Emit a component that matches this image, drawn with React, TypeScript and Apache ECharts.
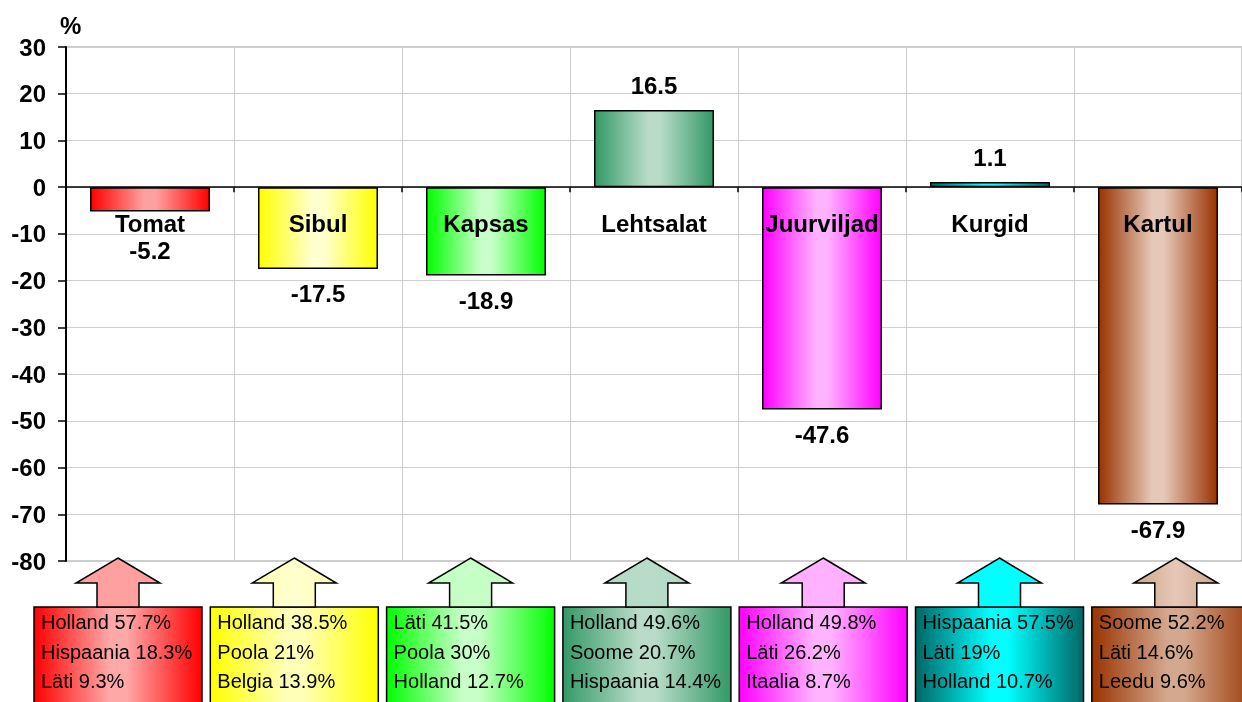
import React, { useEffect, useRef } from "react";
import * as echarts from "echarts";

const categories = ["Tomat", "Sibul", "Kapsas", "Lehtsalat", "Juurviljad", "Kurgid", "Kartul"];
const changes = [-5.2, -17.5, -18.9, 16.5, -47.6, 1.1, -67.9];
const origins = [
  ["Holland 57.7%", "Hispaania 18.3%", "Läti 9.3%"],
  ["Holland 38.5%", "Poola 21%", "Belgia 13.9%"],
  ["Läti 41.5%", "Poola 30%", "Holland 12.7%"],
  ["Holland 49.6%", "Soome 20.7%", "Hispaania 14.4%"],
  ["Holland 49.8%", "Läti 26.2%", "Itaalia 8.7%"],
  ["Hispaania 57.5%", "Läti 19%", "Holland 10.7%"],
  ["Soome 52.2%", "Läti 14.6%", "Leedu 9.6%"],
];
const yTicks = { min: -80, max: 30, interval: 10 };
const nameLabelLevel = -7.7;

const edgeColors = ["#ff0000", "#ffff00", "#00ff00", "#339966", "#ff00ff", "#006666", "#993300"];
const centerColors = ["#ffa0a0", "#ffffd0", "#c8ffc8", "#b8dcc8", "#ffb3ff", "#00ffff", "#e6c8b8"];
const boxCenterColors = ["#ffa8a8", "#ffffb8", "#c8ffc8", "#b8dcc8", "#ffb3ff", "#00ffff", "#d4a88e"];
const arrowColors = ["#ffa0a0", "#ffffb0", "#c0ffc0", "#b3d9c6", "#ffaaff", "#00ffff", "#d0a68a"];

const FONT = "'Liberation Sans', Arial, sans-serif";

function grad(edge: string, center: string) {
  return new echarts.graphic.LinearGradient(0, 0, 1, 0, [
    { offset: 0, color: edge },
    { offset: 0.45, color: center },
    { offset: 0.55, color: center },
    { offset: 1, color: edge },
  ]);
}

export default function App() {
  const ref = useRef<HTMLDivElement>(null);
  useEffect(() => {
    if (!ref.current) return;
    const chart = echarts.init(ref.current, undefined, { renderer: "svg" });

    const graphics: any[] = [];
    origins.forEach((lines, i) => {
      const left = 34 + i * 176.3;
      const t = left + 84;
      graphics.push({
        type: "rect",
        shape: { x: left, y: 607, width: 168, height: 120 },
        style: { fill: grad(edgeColors[i], boxCenterColors[i]), stroke: "#000", lineWidth: 1.5 },
        z: 10,
      });
      graphics.push({
        type: "polygon",
        shape: {
          points: [
            [t, 558], [t + 42, 583], [t + 21, 583], [t + 21, 607],
            [t - 21, 607], [t - 21, 583], [t - 42, 583],
          ],
        },
        style: {
          fill: new echarts.graphic.LinearGradient(0, 0, 1, 0, [
            { offset: 0, color: arrowColors[i] },
            { offset: 0.5, color: centerColors[i] },
            { offset: 1, color: arrowColors[i] },
          ]),
          stroke: "#000",
          lineWidth: 1.5,
        },
        z: 11,
      });
      lines.forEach((s, j) => {
        graphics.push({
          type: "text",
          x: left + 7,
          y: 622 + j * 29.5,
          style: { text: s, font: `20px ${FONT}`, fill: "#000", verticalAlign: "middle", align: "left" },
          z: 12,
        });
      });
    });

    chart.setOption({
      animation: false,
      textStyle: { fontFamily: FONT },
      grid: {
        left: 66, right: 0, top: 47, bottom: 141,
        show: true, borderColor: "#999", borderWidth: 1, backgroundColor: "transparent",
      },
      xAxis: {
        type: "category",
        data: categories,
        axisLine: { onZero: true, lineStyle: { color: "#000", width: 1.5 } },
        axisTick: { show: true, length: 5, lineStyle: { color: "#000", width: 1.5 } },
        splitLine: { show: true, lineStyle: { color: "#cfcfcf", width: 1 } },
        axisLabel: { show: false },
      },
      yAxis: {
        type: "value",
        min: yTicks.min,
        max: yTicks.max,
        interval: yTicks.interval,
        name: "%",
        nameLocation: "end",
        nameGap: 10,
        nameTextStyle: { fontSize: 24, fontWeight: "bold", color: "#000", fontFamily: FONT, align: "left", padding: [0, 0, 0, -6] },
        axisLine: { show: true, lineStyle: { color: "#000", width: 2 } },
        axisTick: { show: true, length: 8, lineStyle: { color: "#000", width: 1.5 } },
        axisLabel: { fontSize: 24, fontWeight: "bold", color: "#000", margin: 20, fontFamily: FONT },
        splitLine: { show: true, lineStyle: { color: "#cfcfcf", width: 1 } },
      },
      series: [
        {
          type: "bar",
          barWidth: 120,
          z: 2,
          data: changes.map((v, i) => ({
            value: v,
            itemStyle: { color: grad(edgeColors[i], centerColors[i]), borderColor: "#000", borderWidth: 1.5 },
            label: {
              show: true,
              position: v >= 0 ? "top" : "bottom",
              distance: i === 0 ? 29 : 15,
              fontSize: 24,
              lineHeight: 20,
              fontWeight: "bold",
              color: "#000",
              fontFamily: FONT,
            },
          })),
        },
        {
          type: "scatter",
          z: 5,
          symbolSize: 0,
          silent: true,
          itemStyle: { opacity: 1 },
          data: categories.map((c, i) => ({ name: c, value: [i, nameLabelLevel] })),
          label: {
            show: true,
            position: "inside",
            formatter: (p: any) => categories[p.dataIndex],
            fontSize: 24,
            lineHeight: 20,
            fontWeight: "bold",
            color: "#000",
            opacity: 1,
            fontFamily: FONT,
          },
        },
      ],
      graphic: graphics,
    });
    return () => chart.dispose();
  }, []);
  return <div ref={ref} style={{ position: "fixed", left: 0, top: 0, width: 1242, height: 702 }} />;
}
